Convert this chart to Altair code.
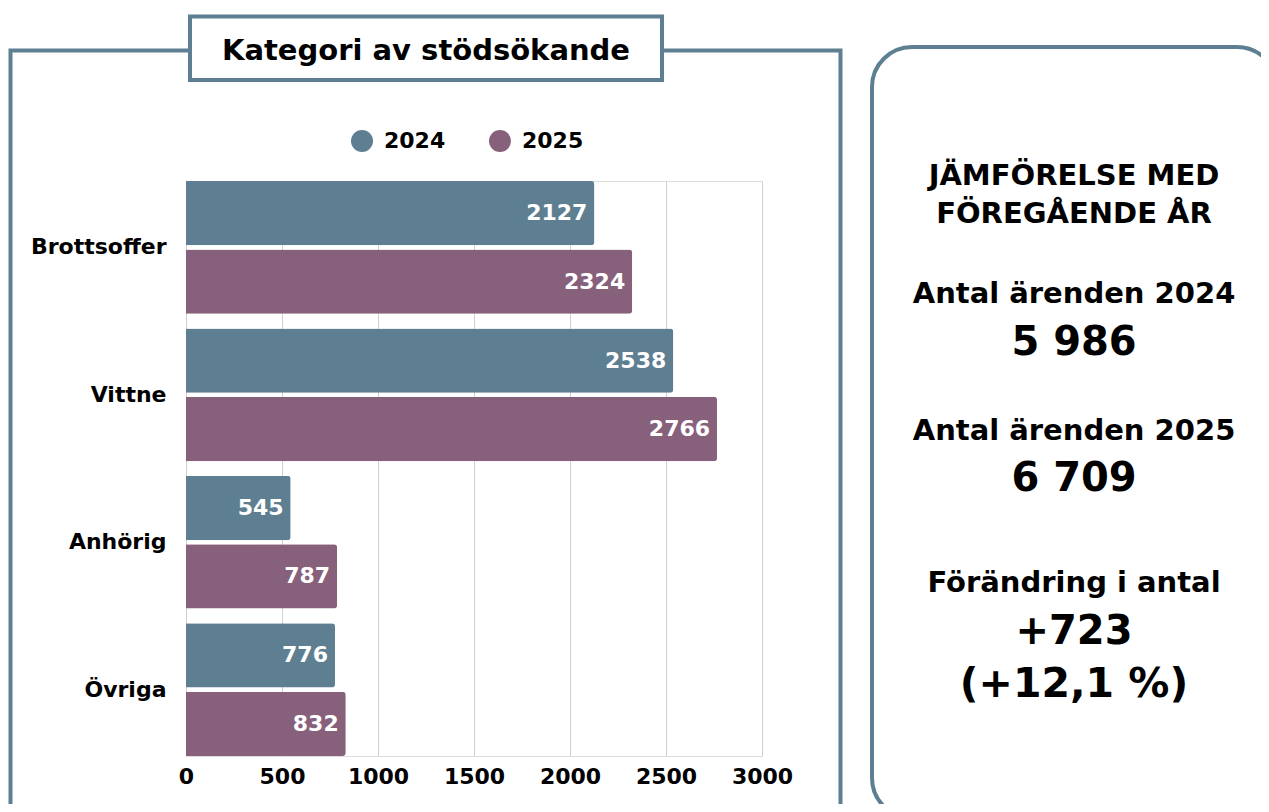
import altair as alt
import pandas as pd

# ---- data ----
categories = ["Brottsoffer", "Vittne", "Anhörig", "Övriga"]
years = ["2024", "2025"]
values_2024 = [2127, 2538, 545, 776]
values_2025 = [2324, 2766, 787, 832]
x_ticks = [0, 500, 1000, 1500, 2000, 2500, 3000]

chart_title = "Kategori av stödsökande"
side_lines = [
    ("JÄMFÖRELSE MED", 29, 4),
    ("FÖREGÅENDE ÅR", 29, 42),
    ("Antal ärenden 2024", 29, 122),
    ("5 986", 40, 174),
    ("Antal ärenden 2025", 29, 259),
    ("6 709", 40, 310),
    ("Förändring i antal", 29, 411),
    ("+723", 40, 463),
    ("(+12,1 %)", 41, 516),
]

colors = ["#5E7F91", "#87607C"]
border = "#5E7F91"
FONT = "DejaVu Sans"

rows = []
for c, a, b in zip(categories, values_2024, values_2025):
    rows.append({"category": c, "year": "2024", "value": a})
    rows.append({"category": c, "year": "2025", "value": b})
df = pd.DataFrame(rows)

one = alt.Data(values=[{}])

y_enc = alt.Y("category:N", sort=categories,
              scale=alt.Scale(paddingInner=0.1, paddingOuter=0),
              axis=alt.Axis(title=None, ticks=False, domain=False, grid=False,
                            labelPadding=20, labelFontSize=22, labelFont=FONT,
                            labelFontWeight="bold", labelColor="black"))
yoff_enc = alt.YOffset("year:N", sort=years, scale=alt.Scale(paddingInner=0.06))
x_enc = alt.X("value:Q", scale=alt.Scale(domain=[0, 3000], nice=False),
              axis=alt.Axis(title=None, values=x_ticks, format="d", ticks=False,
                            domain=False, grid=True, gridColor="#d0d0d0", gridWidth=1,
                            labelFlush=False, labelOverlap=False, labelPadding=10,
                            labelFontSize=22, labelFont=FONT, labelFontWeight="bold",
                            labelColor="black"))

bars = alt.Chart(df).mark_bar(cornerRadiusEnd=3).encode(
    y=y_enc,
    yOffset=yoff_enc,
    x=x_enc,
    color=alt.Color("year:N", sort=years,
                    scale=alt.Scale(domain=years, range=colors),
                    legend=alt.Legend(title=None, orient="none", legendX=165, legendY=-51,
                                      direction="horizontal", symbolType="circle",
                                      symbolSize=484, symbolStrokeWidth=0,
                                      labelFontSize=22, labelFont=FONT,
                                      labelFontWeight="bold", labelColor="black",
                                      labelOffset=11, columnPadding=43, padding=0)),
)

labels = alt.Chart(df).mark_text(align="right", baseline="middle", dx=-7,
                                 color="white", fontSize=22, font=FONT,
                                 fontWeight="bold").encode(
    y=alt.Y("category:N", sort=categories),
    yOffset=alt.YOffset("year:N", sort=years),
    x=alt.X("value:Q"),
    text=alt.Text("value:Q", format="d"),
)

left_panel = alt.Chart(one).mark_rect(fillOpacity=0, stroke=border, strokeWidth=4).encode(
    x=alt.value(-175.5), x2=alt.value(654.5), y=alt.value(-130.5), y2=alt.value(720))

title_box = alt.Chart(one).mark_rect(fill="white", stroke=border, strokeWidth=4).encode(
    x=alt.value(4), x2=alt.value(476), y=alt.value(-164.5), y2=alt.value(-101))

title_text = alt.Chart(one).mark_text(align="center", baseline="alphabetic",
                                      fontSize=29, font=FONT, fontWeight="bold",
                                      color="black").encode(
    x=alt.value(240), y=alt.value(-121), text=alt.value(chart_title))

right_panel = alt.Chart(one).mark_rect(fillOpacity=0, stroke=border, strokeWidth=4,
                                       cornerRadius=40).encode(
    x=alt.value(686), x2=alt.value(1091), y=alt.value(-134), y2=alt.value(637))

side_texts = []
for txt, size, yb in side_lines:
    side_texts.append(
        alt.Chart(one).mark_text(align="center", baseline="alphabetic", fontSize=size,
                                 font=FONT, fontWeight="bold", color="black").encode(
            x=alt.value(888), y=alt.value(yb), text=alt.value(txt)))

chart = alt.layer(left_panel, right_panel, title_box, title_text, bars, labels,
                  *side_texts).properties(
    width=576, height=575,
    autosize=alt.AutoSizeParams(type="none"),
    padding={"left": 178, "top": 173, "right": 499, "bottom": 48},
).configure_view(stroke="transparent", strokeWidth=0).configure_axis(
    domain=False, ticks=False
).configure(background="white")

chart.save("out.html", embed_options={"renderer": "svg", "actions": False})
